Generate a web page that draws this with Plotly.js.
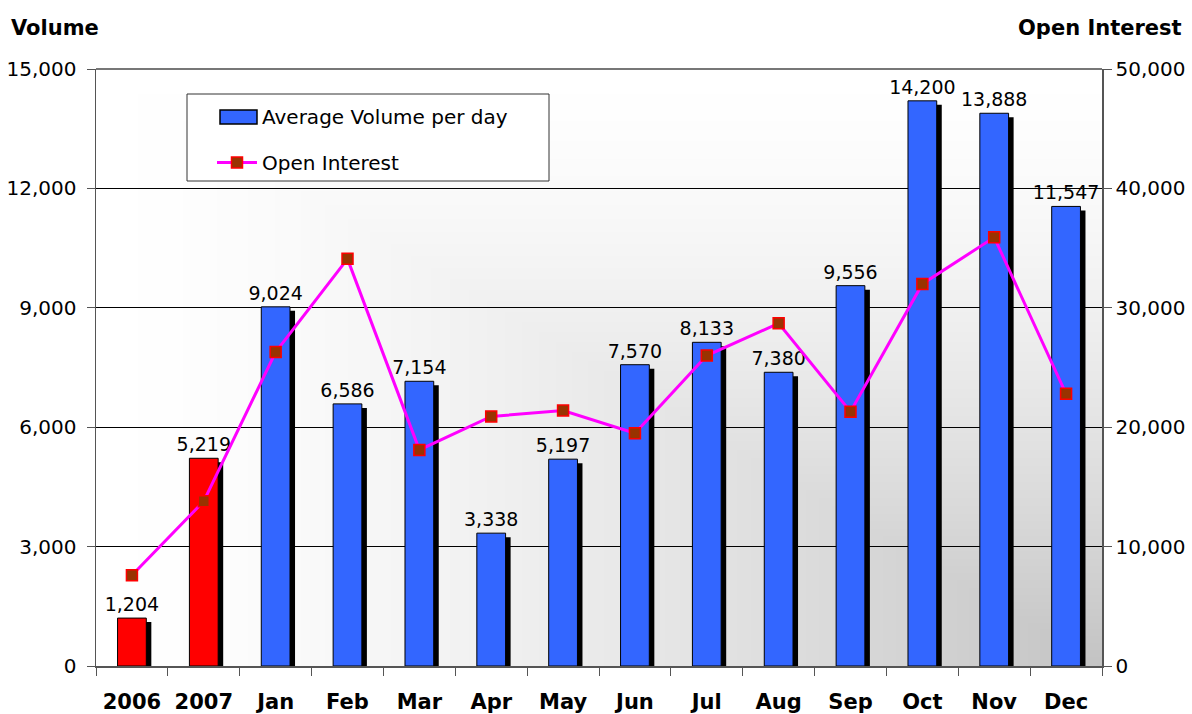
<!DOCTYPE html>
<html>
<head>
<meta charset="utf-8">
<script src="https://cdn.plot.ly/plotly-3.0.1.min.js"></script>
<style>
html,body{margin:0;padding:0;background:#fff;}
#chart{width:1192px;height:714px;}
</style>
</head>
<body>
<div id="chart"></div>
<script>
var categories = ["2006","2007","Jan","Feb","Mar","Apr","May","Jun","Jul","Aug","Sep","Oct","Nov","Dec"];
var volume = [1204, 5219, 9024, 6586, 7154, 3338, 5197, 7570, 8133, 7380, 9556, 14200, 13888, 11547];
var openInterest = [7600, 13800, 26300, 34100, 18100, 20900, 21400, 19500, 26000, 28700, 21300, 32000, 35900, 22800];
var barColors = ["#FF0000","#FF0000","#3366FF","#3366FF","#3366FF","#3366FF","#3366FF","#3366FF","#3366FF","#3366FF","#3366FF","#3366FF","#3366FF","#3366FF"];
var volumeTicks = [0, 3000, 6000, 9000, 12000, 15000];
var oiTicks = [0, 10000, 20000, 30000, 40000, 50000];

var FONT = "DejaVu Sans, Verdana, sans-serif";
var W = 1192, H = 714, mL = 96, mR = 90, mT = 69, mB = 48;
var pw = W - mL - mR, ph = H - mT - mB;
function px(x){ return (x - mL) / pw; }
function py(y){ return (H - mB - y) / ph; }

// "from corner" gradient background for the plot area
var cv = document.createElement("canvas");
cv.width = pw; cv.height = ph;
var ctx = cv.getContext("2d");
var img = ctx.createImageData(pw, ph);
for (var j = 0; j < ph; j++) {
  for (var i = 0; i < pw; i++) {
    var t = Math.min(i / pw, j / ph);
    var c = Math.round(255 - Math.pow(t, 1.5) * 60);
    var k = (j * pw + i) * 4;
    img.data[k] = c; img.data[k+1] = c; img.data[k+2] = c; img.data[k+3] = 255;
  }
}
ctx.putImageData(img, 0, 0);
var bgURL = cv.toDataURL("image/png");

var fmt = function(v){ return v.toLocaleString("en-US"); };
var shadowDrop = 15000 * 4 / ph;

var traces = [
  { // shadow
    type: "bar", x: categories, y: volume.map(function(v){ return v - shadowDrop; }),
    width: 0.4, offset: -0.2 + 0.07,
    marker: {color: "#000000", line: {width: 0}},
    showlegend: false, hoverinfo: "skip"
  },
  {
    type: "bar", x: categories, y: volume,
    width: 0.4, offset: -0.2,
    marker: {color: barColors, line: {color: "#000000", width: 1}},
    text: volume.map(fmt), textposition: "outside", cliponaxis: false, constraintext: "none",
    textfont: {family: FONT, size: 19, color: "#000000"},
    showlegend: false, name: "Average Volume per day"
  },
  { // legend entry (swatch drawn as shape)
    type: "bar", x: [categories[0]], y: [null],
    marker: {color: "rgba(0,0,0,0)", line: {width: 0}},
    name: "Average Volume per day", showlegend: true, hoverinfo: "skip",
    legendgroup: "a"
  },
  {
    type: "scatter", mode: "lines+markers", x: categories, y: openInterest, yaxis: "y2",
    line: {color: "#FF00FF", width: 3},
    marker: {symbol: "square", size: 11, color: "#993300", line: {color: "#FF0000", width: 1.5}},
    name: "Open Interest", legendgroup: "b"
  }
];

var layout = {
  width: W, height: H,
  margin: {l: mL, r: mR, t: mT, b: mB, pad: 0},
  paper_bgcolor: "#ffffff",
  plot_bgcolor: "rgba(0,0,0,0)",
  barmode: "overlay",
  font: {family: FONT, size: 20, color: "#000000"},
  showlegend: true,
  legend: {
    x: px(212), y: py(97), xanchor: "left", yanchor: "top",
    bgcolor: "rgba(0,0,0,0)", borderwidth: 0,
    font: {family: FONT, size: 20, color: "#000000"},
    itemwidth: 40, traceorder: "grouped", tracegroupgap: 17
  },
  xaxis: {
    type: "category", range: [-0.5, 13.5],
    showline: true, linecolor: "#555555", linewidth: 1.5,
    ticks: "outside", ticklen: 8, tickcolor: "#555555", tickson: "boundaries",
    tickfont: {family: FONT, size: 21, color: "#000000", weight: "bold"},
    ticklabelstandoff: 16,
    showgrid: false, zeroline: false, fixedrange: true
  },
  yaxis: {
    range: [0, 15000], tickvals: volumeTicks, ticktext: volumeTicks.map(fmt),
    showline: true, linecolor: "#555555", linewidth: 1.5,
    ticks: "outside", ticklen: 8, tickcolor: "#555555",
    ticklabelstandoff: 6,
    showgrid: true, gridcolor: "#000000", gridwidth: 1,
    zeroline: false, tickfont: {family: FONT, size: 20, color: "#000000"},
    fixedrange: true
  },
  yaxis2: {
    overlaying: "y", side: "right", range: [0, 50000],
    tickvals: oiTicks, ticktext: oiTicks.map(fmt),
    showline: true, linecolor: "#555555", linewidth: 1.5,
    ticks: "outside", ticklen: 8, tickcolor: "#555555",
    showgrid: false, zeroline: false,
    tickfont: {family: FONT, size: 20, color: "#000000"},
    fixedrange: true
  },
  shapes: [
    {type: "line", xref: "paper", yref: "paper", x0: 0, x1: 1, y0: 1, y1: 1,
     line: {color: "#777777", width: 2}},
    {type: "rect", xref: "paper", yref: "paper", x0: px(187), x1: px(549), y0: py(181), y1: py(94),
     fillcolor: "#ffffff", line: {color: "#333333", width: 1}, layer: "above"},
    {type: "rect", xref: "paper", yref: "paper", x0: px(220), x1: px(257), y0: py(124), y1: py(110),
     fillcolor: "#3366FF", line: {color: "#000000", width: 1.5}, layer: "above"}
  ],
  images: [
    {source: bgURL, xref: "paper", yref: "paper", x: 0, y: 1, sizex: 1, sizey: 1,
     sizing: "stretch", layer: "below", xanchor: "left", yanchor: "top"}
  ],
  annotations: [
    {text: "<b>Volume</b>", xref: "paper", yref: "paper", x: px(9), y: py(28),
     xanchor: "left", yanchor: "middle", showarrow: false,
     font: {family: FONT, size: 21, color: "#000000"}},
    {text: "<b>Open Interest</b>", xref: "paper", yref: "paper", x: px(1184), y: py(28),
     xanchor: "right", yanchor: "middle", showarrow: false,
     font: {family: FONT, size: 21, color: "#000000"}}
  ]
};

Plotly.newPlot("chart", traces, layout, {displayModeBar: false, staticPlot: true});
</script>
</body>
</html>
